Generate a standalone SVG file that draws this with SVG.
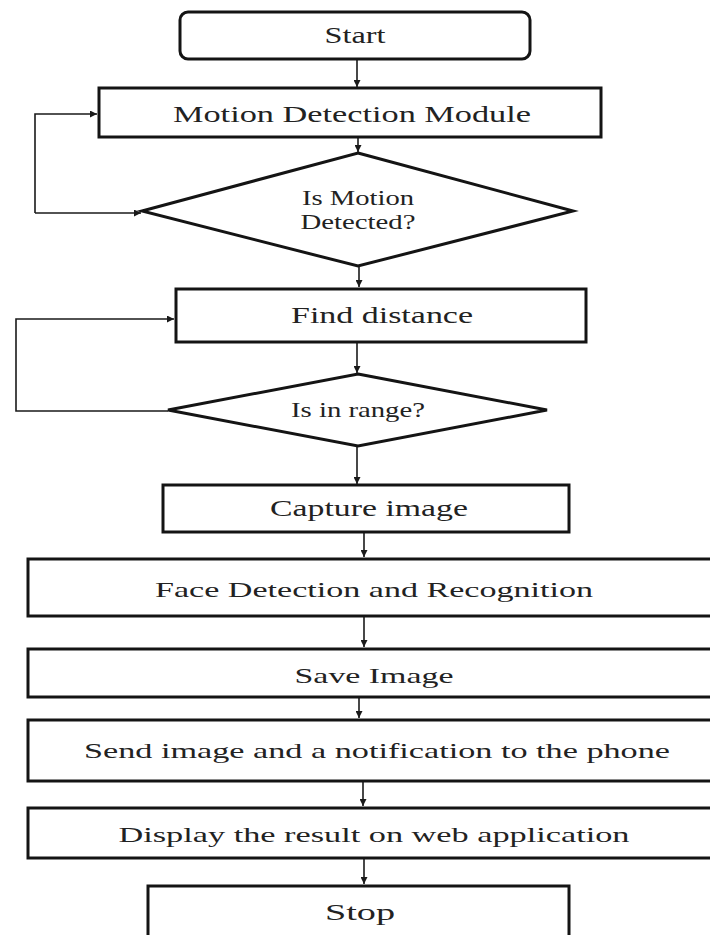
<svg xmlns="http://www.w3.org/2000/svg" width="710" height="935" viewBox="0 0 710 935">
<style>
.box{fill:#fff;stroke:#141414;stroke-width:3}
.con{fill:none;stroke:#1a1a1a;stroke-width:1.6}
.t{font-family:"Liberation Serif","Times New Roman",serif;fill:#222;text-anchor:middle}
</style>
<defs>
<marker id="ah" viewBox="0 0 10 10" refX="10" refY="5" markerWidth="8" markerHeight="7" markerUnits="userSpaceOnUse" orient="auto">
<path d="M0,0 L10,5 L0,10 z" fill="#1a1a1a"/>
</marker>
</defs>
<rect width="710" height="935" fill="#fff"/>
<g id="connectors">
<path class="con" d="M357,60 V87" marker-end="url(#ah)"/>
<path class="con" d="M358,138 V152" marker-end="url(#ah)"/>
<path class="con" d="M35,213 V114 H97" marker-end="url(#ah)"/>
<path class="con" d="M35,213 H141" marker-end="url(#ah)"/>
<path class="con" d="M359,266 V287" marker-end="url(#ah)"/>
<path class="con" d="M168,411 H16 V319 H174" marker-end="url(#ah)"/>
<path class="con" d="M357,343 V373" marker-end="url(#ah)"/>
<path class="con" d="M357,446 V484" marker-end="url(#ah)"/>
<path class="con" d="M364,533 V557" marker-end="url(#ah)"/>
<path class="con" d="M364,617 V647" marker-end="url(#ah)"/>
<path class="con" d="M359,698 V718" marker-end="url(#ah)"/>
<path class="con" d="M363,782 V806" marker-end="url(#ah)"/>
<path class="con" d="M364,859 V884" marker-end="url(#ah)"/>
</g>
<g id="start">
<rect class="box" x="180" y="12" width="350" height="47" rx="8"/>
<text class="t" x="355" y="43" font-size="23" textLength="61" lengthAdjust="spacingAndGlyphs">Start</text>
</g>
<g id="motion">
<rect class="box" x="99" y="88" width="502" height="49"/>
<text class="t" x="352" y="122" font-size="24" textLength="358" lengthAdjust="spacingAndGlyphs">Motion Detection Module</text>
</g>
<g id="decision1">
<polygon class="box" points="358,153 573,211 358,266 142,211"/>
<text class="t" x="358" y="205" font-size="20" textLength="112" lengthAdjust="spacingAndGlyphs">Is Motion</text>
<text class="t" x="358" y="229" font-size="20" textLength="115" lengthAdjust="spacingAndGlyphs">Detected?</text>
</g>
<g id="distance">
<rect class="box" x="176" y="289" width="410" height="53"/>
<text class="t" x="382" y="323" font-size="24" textLength="182" lengthAdjust="spacingAndGlyphs">Find distance</text>
</g>
<g id="decision2">
<polygon class="box" points="358,374 547,410 358,446 168,410"/>
<text class="t" x="358" y="417" font-size="21" textLength="134" lengthAdjust="spacingAndGlyphs">Is in range?</text>
</g>
<g id="capture">
<rect class="box" x="163" y="485" width="406" height="47"/>
<text class="t" x="369" y="516" font-size="23" textLength="198" lengthAdjust="spacingAndGlyphs">Capture image</text>
</g>
<g id="face">
<rect class="box" x="28" y="559" width="690" height="57"/>
<text class="t" x="374" y="597" font-size="22" textLength="438" lengthAdjust="spacingAndGlyphs">Face Detection and Recognition</text>
</g>
<g id="save">
<rect class="box" x="28" y="649" width="690" height="48"/>
<text class="t" x="374" y="683" font-size="22" textLength="159" lengthAdjust="spacingAndGlyphs">Save Image</text>
</g>
<g id="send">
<rect class="box" x="28" y="720" width="690" height="61"/>
<text class="t" x="377" y="758" font-size="22" textLength="586" lengthAdjust="spacingAndGlyphs">Send image and a notification to the phone</text>
</g>
<g id="display">
<rect class="box" x="28" y="808" width="690" height="50"/>
<text class="t" x="374" y="842" font-size="22" textLength="511" lengthAdjust="spacingAndGlyphs">Display the result on web application</text>
</g>
<g id="stop">
<rect class="box" x="148" y="886" width="421" height="60"/>
<text class="t" x="360" y="920" font-size="23" textLength="70" lengthAdjust="spacingAndGlyphs">Stop</text>
</g>
</svg>
